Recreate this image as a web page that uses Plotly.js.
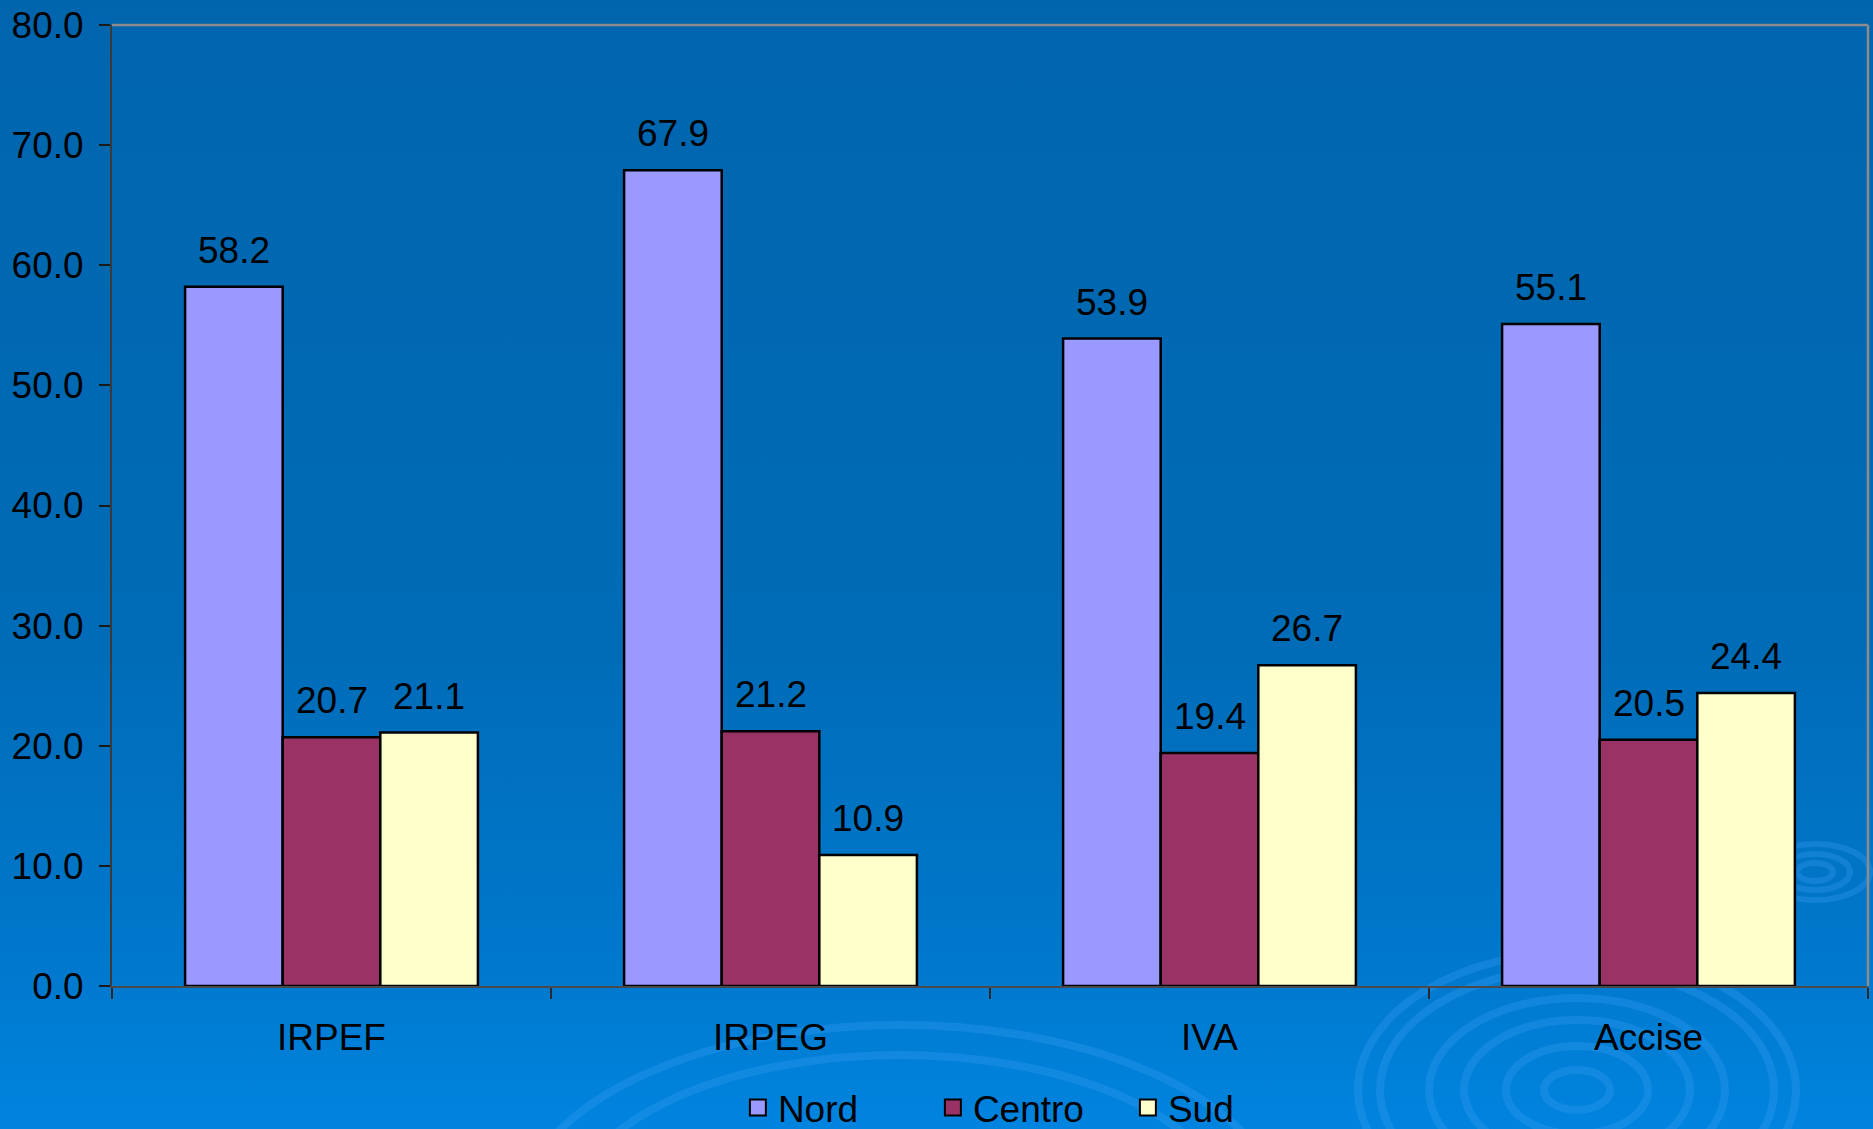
<!DOCTYPE html>
<html>
<head>
<meta charset="utf-8">
<script src="https://cdn.plot.ly/plotly-3.0.1.min.js"></script>
<style>
  html, body { margin: 0; padding: 0; }
  body { width: 1873px; height: 1129px; overflow: hidden;
         background: linear-gradient(to bottom, #0065AD 0%, #006BB6 55%, #0078CC 85%, #0084DF 100%); }
  #chart { width: 1873px; height: 1129px; }
</style>
</head>
<body>
<div id="chart"></div>
<script>
// ---- data ----
const categories = ["IRPEF", "IRPEG", "IVA", "Accise"];
const nord   = [58.2, 67.9, 53.9, 55.1];
const centro = [20.7, 21.2, 19.4, 20.5];
const sud    = [21.1, 10.9, 26.7, 24.4];
const seriesNames = ["Nord", "Centro", "Sud"];
const yTickVals = [0, 10, 20, 30, 40, 50, 60, 70, 80];

// ---- styles ----
const W = 1873, H = 1129;
const M = { l: 112, r: 5, t: 25, b: 143, autoexpand: false };
const FONT = "Liberation Sans, Arial, sans-serif";
const FS = 37;
const colors = ["#9999FF", "#993366", "#FFFFCC"];
const BARGAP = 0.333;
const seriesData = [nord, centro, sud];

const traces = seriesData.map((vals, i) => ({
  type: "bar",
  name: seriesNames[i],
  x: categories,
  y: vals,
  showlegend: false,
  marker: { color: colors[i], line: { color: "#000000", width: 2.5 } },
  hoverinfo: "x+y+name"
}));
// legend entries (square swatches)
seriesNames.forEach((n, i) => {
  traces.push({
    type: "scatter", mode: "markers", name: n,
    x: [null], y: [null], showlegend: true, hoverinfo: "skip",
    marker: { symbol: "square", size: 20, color: colors[i], line: { color: "#000000", width: 2 } }
  });
});

// value labels above bars (positioned via category axis coordinates)
const nS = seriesData.length;
const slot = (1 - BARGAP) / nS;
const annotations = [];
seriesData.forEach((vals, i) => {
  vals.forEach((v, j) => {
    annotations.push({
      x: j + (i - (nS - 1) / 2) * slot,
      y: v,
      xref: "x", yref: "y",
      text: v.toFixed(1),
      showarrow: false,
      yanchor: "bottom",
      yshift: 14,
      font: { family: FONT, size: FS, color: "#000000" }
    });
  });
});

// decorative ripples (background), pixel -> paper
const pw = W - M.l - M.r, ph = H - M.t - M.b;
function px(x) { return (x - M.l) / pw; }
function py(y) { return (H - M.b - y) / ph; }
const ringColor = "rgba(60,160,245,0.30)";
const shapes = [];
function ring(cx, cy, rx, ry, w) {
  shapes.push({ type: "circle", xref: "paper", yref: "paper", layer: "below",
    x0: px(cx - rx), x1: px(cx + rx), y0: py(cy + ry), y1: py(cy - ry),
    line: { color: ringColor, width: w }, fillcolor: "rgba(0,0,0,0)" });
}
[[33, 20], [71, 44], [113, 70], [148, 92], [197, 122], [219, 138]].forEach(r => ring(1577, 1090, r[0], r[1], 8));
[[18, 9], [35, 18], [55, 28]].forEach(r => ring(1815, 872, r[0], r[1], 6));
[[330, 160], [380, 190]].forEach(r => ring(900, 1215, r[0], r[1], 8));
// top and right border of plot frame
shapes.push({ type: "line", xref: "paper", yref: "paper", x0: 0, x1: 1, y0: 1, y1: 1,
  line: { color: "#8C8C8C", width: 2.5 } });
shapes.push({ type: "line", xref: "paper", yref: "paper", x0: 1, x1: 1, y0: 0, y1: 1,
  line: { color: "#8C8C8C", width: 2.5 } });

const layout = {
  width: W, height: H,
  margin: M,
  paper_bgcolor: "rgba(0,0,0,0)",
  plot_bgcolor: "rgba(0,0,0,0)",
  font: { family: FONT, size: FS, color: "#000000" },
  barmode: "group",
  bargap: BARGAP,
  bargroupgap: 0,
  showlegend: true,
  legend: {
    orientation: "h",
    x: 0.523, xanchor: "center",
    y: -0.127, yanchor: "middle",
    entrywidth: 150, entrywidthmode: "pixels",
    itemsizing: "trace",
    font: { family: FONT, size: FS, color: "#000000" },
    bgcolor: "rgba(0,0,0,0)",
    itemclick: false, itemdoubleclick: false
  },
  xaxis: {
    type: "category",
    showgrid: false,
    zeroline: false,
    showline: true, linecolor: "#4A4A4A", linewidth: 2,
    ticks: "outside", tickson: "boundaries", ticklen: 11, tickcolor: "#2A2A2A", tickwidth: 1.5,
    ticklabelstandoff: 18,
    tickfont: { family: FONT, size: FS, color: "#000000" }
  },
  yaxis: {
    range: [0, 80],
    tickvals: yTickVals,
    ticktext: yTickVals.map(v => v.toFixed(1)),
    showgrid: false,
    zeroline: false,
    showline: true, linecolor: "#3A3A3A", linewidth: 2,
    ticks: "outside", ticklen: 11, tickcolor: "#1A1A1A", tickwidth: 1.5,
    ticklabelstandoff: 8,
    tickfont: { family: FONT, size: FS, color: "#000000" }
  },
  shapes: shapes,
  annotations: annotations
};

Plotly.newPlot("chart", traces, layout, { displayModeBar: false, responsive: false });
</script>
</body>
</html>
